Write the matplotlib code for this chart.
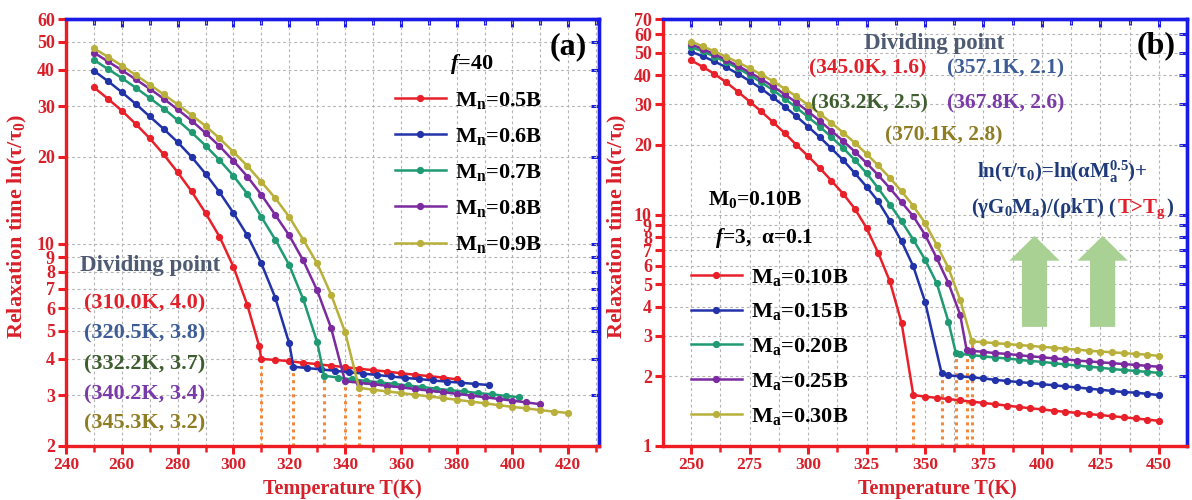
import matplotlib
matplotlib.use('Agg')
import matplotlib.pyplot as plt
from matplotlib.patches import FancyArrow
from matplotlib.ticker import MultipleLocator, NullLocator

plt.rcParams['font.family'] = ['Liberation Serif', 'DejaVu Serif']
plt.rcParams['font.weight'] = 'bold'
plt.rcParams['mathtext.fontset'] = 'custom'
plt.rcParams['mathtext.rm'] = 'Liberation Serif:bold'
plt.rcParams['mathtext.it'] = 'Liberation Serif:italic:bold'
plt.rcParams['mathtext.bf'] = 'Liberation Serif:bold'
plt.rcParams['mathtext.default'] = 'bf'

# ---------------- data: panel (a), f=40 ----------------
a_labels = ['M$_n$=0.5B', 'M$_n$=0.6B', 'M$_n$=0.7B', 'M$_n$=0.8B', 'M$_n$=0.9B']

a_T_05 = list(range(250, 310, 5)) + [309.2, 310.0] + list(range(315, 385, 5))
a_v_05 = [34.8, 31.8, 28.9, 26.0, 23.2, 20.4, 17.7, 15.2, 12.8, 10.6, 8.34, 6.14,
          4.44, 4.00,
          3.97, 3.93, 3.88, 3.84, 3.79, 3.75, 3.70, 3.66, 3.62, 3.57, 3.53, 3.49, 3.45, 3.40]

a_T_06 = list(range(250, 325, 5)) + [321.5] + [326.5 + 5 * i for i in range(14)]
a_v_06 = [39.7, 36.6, 33.5, 30.5, 27.6, 25.0, 22.5, 20.0, 17.5, 15.1, 12.8, 10.7, 8.57, 6.51, 4.53,
          3.76,
          3.72, 3.68, 3.64, 3.60, 3.56, 3.52, 3.48, 3.44, 3.41, 3.37, 3.34, 3.31, 3.28, 3.25]

a_T_07 = list(range(250, 335, 5)) + [332.5] + [337.5 + 5 * i for i in range(14)]
a_v_07 = [43.3, 40.3, 37.5, 34.7, 32.0, 29.4, 26.8, 24.3, 21.9, 19.5, 17.2, 14.9, 12.4, 10.35,
          8.45, 6.44, 4.58,
          3.50,
          3.45, 3.40, 3.36, 3.32, 3.28, 3.24, 3.20, 3.16, 3.12, 3.09, 3.05, 3.02, 2.98, 2.95]

a_T_08 = list(range(250, 340, 5)) + [340.0] + list(range(345, 415, 5))
a_v_08 = [45.9, 42.8, 39.9, 37.1, 34.4, 31.8, 29.2, 26.7, 24.2, 21.8, 19.4, 17.1, 14.8, 12.6,
          10.7, 8.77, 6.91, 5.12,
          3.35,
          3.31, 3.27, 3.23, 3.19, 3.15, 3.11, 3.07, 3.03, 2.99, 2.95, 2.91, 2.87, 2.83, 2.79]

a_T_09 = list(range(250, 345, 5)) + [345.0] + list(range(350, 425, 5))
a_v_09 = [47.5, 44.4, 41.4, 38.4, 35.6, 32.9, 30.4, 27.9, 25.6, 23.2, 20.8, 18.6, 16.4, 14.4,
          12.4, 10.35, 8.57, 6.68, 4.96,
          3.18,
          3.13, 3.09, 3.05, 3.01, 2.97, 2.93, 2.89, 2.85, 2.81, 2.77, 2.73, 2.70, 2.66, 2.63, 2.60]

a_div_T = [310.0, 321.5, 332.5, 340.0, 345.0]
a_div_v = [4.00, 3.76, 3.50, 3.35, 3.18]
a_div_text = ['(310.0K, 4.0)', '(320.5K, 3.8)', '(332.2K, 3.7)', '(340.2K, 3.4)', '(345.3K, 3.2)']

a_yticks = [2, 3, 4, 5, 6, 7, 8, 9, 10, 20, 30, 40, 50, 60]

# ---------------- data: panel (b), f=3 ----------------
b_labels = ['M$_a$=0.10B', 'M$_a$=0.15B', 'M$_a$=0.20B', 'M$_a$=0.25B', 'M$_a$=0.30B']

b_T_10 = list(range(250, 350, 5)) + list(range(350, 455, 5))
b_v_10 = [46.4, 43.5, 40.5, 37.3, 34.0, 30.8, 27.9, 25.1, 22.5, 20.0, 17.9, 15.9, 14.0, 12.3,
          10.6, 8.76, 6.83, 5.14, 3.40, 1.66,
          1.635, 1.615, 1.595, 1.575, 1.555, 1.535, 1.515, 1.495, 1.475, 1.455, 1.44, 1.42,
          1.405, 1.39, 1.375, 1.36, 1.345, 1.33, 1.315, 1.30, 1.285]

b_T_15 = list(range(250, 355, 5)) + [357.1] + list(range(360, 455, 5))
b_v_15 = [50.6, 48.3, 45.9, 43.3, 40.6, 37.8, 35.0, 32.1, 29.3, 26.6, 24.0, 21.6, 19.3, 17.2,
          15.1, 13.2, 11.4, 9.42, 7.66, 5.97, 4.21,
          2.06,
          2.02, 2.00, 1.98, 1.96, 1.93, 1.91, 1.89, 1.87, 1.85, 1.83, 1.81, 1.79, 1.77, 1.75,
          1.73, 1.71, 1.70, 1.68, 1.66]

b_T_20 = list(range(250, 365, 5)) + [363.2] + list(range(365, 455, 5))
b_v_20 = [53.0, 50.7, 48.2, 45.6, 42.9, 40.1, 37.3, 34.5, 31.7, 29.0, 26.4, 24.0, 21.6, 19.4,
          17.2, 15.1, 13.0, 11.05, 9.35, 7.79, 6.39, 5.06, 3.45,
          2.52,
          2.50, 2.47, 2.44, 2.41, 2.39, 2.36, 2.33, 2.31, 2.28, 2.25, 2.23, 2.20, 2.18, 2.15,
          2.13, 2.11, 2.09, 2.07]

b_T_25 = list(range(250, 370, 5)) + [367.8] + list(range(370, 455, 5))
b_v_25 = [54.4, 51.9, 49.3, 46.6, 43.9, 41.2, 38.5, 35.8, 33.1, 30.5, 27.9, 25.4, 23.0, 20.8,
          18.7, 16.7, 14.8, 13.0, 11.3, 9.83, 8.19, 6.49, 5.06, 3.70,
          2.60,
          2.58, 2.55, 2.52, 2.50, 2.47, 2.44, 2.42, 2.39, 2.37, 2.34, 2.32, 2.30, 2.28, 2.26,
          2.24, 2.22, 2.20]

b_T_30 = list(range(250, 370, 5)) + [370.1] + list(range(375, 455, 5))
b_v_30 = [55.9, 53.3, 50.7, 48.1, 45.5, 42.9, 40.3, 37.7, 35.0, 32.4, 29.8, 27.3, 24.9, 22.6,
          20.4, 18.3, 16.3, 14.4, 12.6, 10.9, 9.2, 7.41, 5.88, 4.29,
          2.83,
          2.81, 2.78, 2.76, 2.73, 2.71, 2.68, 2.66, 2.63, 2.61, 2.58, 2.56, 2.54, 2.52, 2.50,
          2.48, 2.45]

b_div_T = [345.0, 357.1, 363.2, 367.8, 370.1]
b_div_v = [1.66, 2.06, 2.52, 2.60, 2.83]
b_div_text = ['(345.0K, 1.6)', '(357.1K, 2.1)', '(363.2K, 2.5)', '(367.8K, 2.6)', '(370.1K, 2.8)']

b_yticks = [1, 2, 3, 4, 5, 6, 7, 8, 9, 10, 20, 30, 40, 50, 60, 70]

# ---------------- styles ----------------
W, H = 1192, 500
line_colors = ['#e8202a', '#2233aa', '#1f9a72', '#7b2aa0', '#b8b03a']
label_colors = ['#e0202a', '#3e5d96', '#3f5e2f', '#7a3aa8', '#8f7d24']
SP_RED = '#f01c24'
SP_BLUE = '#1a1ae6'
TICK_RED = '#d8202a'
DIV_COL = '#4f5b73'
DOT_COL = '#f0883e'
NAVY = '#1f3a78'

fig = plt.figure(figsize=(W / 100, H / 100), dpi=100)
fig.patch.set_facecolor('white')


def make_axes(rect_px):
    x0, y0, x1, y1 = rect_px
    return fig.add_axes([x0 / W, (H - y1) / H, (x1 - x0) / W, (y1 - y0) / H])


def style_axes(ax, xlim, xmaj, xmin, ylim, yticks):
    ax.set_yscale('log')
    ax.set_xlim(*xlim)
    ax.set_ylim(*ylim)
    ax.xaxis.set_major_locator(MultipleLocator(xmaj))
    ax.xaxis.set_minor_locator(MultipleLocator(xmin))
    ax.set_yticks(yticks)
    ax.set_yticklabels([str(t) for t in yticks])
    ax.yaxis.set_minor_locator(NullLocator())
    ax.grid(True, which='both', axis='x', color='#b4b4b4', lw=0.8, ls=(0, (2.5, 2.5)))
    ax.grid(True, which='major', axis='y', color='#b4b4b4', lw=0.8, ls=(0, (2.5, 2.5)))
    ax.set_axisbelow(True)
    for s in ['left', 'bottom']:
        ax.spines[s].set_color(SP_RED)
        ax.spines[s].set_linewidth(2.4)
    for s in ['top', 'right']:
        ax.spines[s].set_color(SP_BLUE)
        ax.spines[s].set_linewidth(2.4)
    ax.tick_params(axis='both', which='major', direction='out', length=6, width=2.2,
                   color=SP_RED, labelcolor=TICK_RED, pad=2)
    ax.tick_params(axis='x', which='major', labelsize=12.5)
    ax.tick_params(axis='y', which='major', labelsize=13)
    ax.tick_params(axis='x', which='minor', direction='out', length=4, width=1.8, color=SP_RED)
    for lab in ax.get_xticklabels() + ax.get_yticklabels():
        lab.set_fontweight('bold')
    # top / right inward ticks (blue)
    sx = ax.secondary_xaxis('top')
    sx.xaxis.set_major_locator(MultipleLocator(xmaj))
    sx.xaxis.set_minor_locator(MultipleLocator(xmin))
    sx.tick_params(axis='x', which='both', direction='in', length=6, width=2.2,
                   color=SP_BLUE, labeltop=False)
    sx.tick_params(axis='x', which='minor', length=4)
    sx.spines['top'].set_color(SP_BLUE)
    sx.spines['top'].set_linewidth(2.4)
    sy = ax.secondary_yaxis('right')
    sy.set_yticks(yticks)
    sy.yaxis.set_minor_locator(NullLocator())
    sy.tick_params(axis='y', which='both', direction='in', length=6, width=2.2,
                   color=SP_BLUE, labelright=False)
    sy.spines['right'].set_color(SP_BLUE)
    sy.spines['right'].set_linewidth(2.4)


def plot_series(ax, Ts, vs, labels):
    for T, v, c, lab in zip(Ts, vs, line_colors, labels):
        ax.plot(T, v, '-o', color=c, lw=1.8, ms=4.2, mfc=c, mec=c, label=lab, zorder=3)


# ---------------- panel (a) ----------------
axA = make_axes((66, 19, 599, 446))
style_axes(axA, (240, 431), 20, 10, (2, 60), a_yticks)
plot_series(axA, [a_T_05, a_T_06, a_T_07, a_T_08, a_T_09],
            [a_v_05, a_v_06, a_v_07, a_v_08, a_v_09], a_labels)
axA.vlines(a_div_T, 2, a_div_v, colors=DOT_COL, linestyles=(0, (1, 1.3)), lw=2.2, zorder=2)
axA.set_xlabel('Temperature T(K)', color=TICK_RED, fontsize=14.5, fontweight='bold')
axA.set_ylabel('Relaxation time ln(τ/τ$_0$)', color=TICK_RED, fontsize=16, fontweight='bold')
axA.xaxis.set_label_coords(0.518, -0.078)
axA.yaxis.set_label_coords(-0.069, 0.515)
legA = axA.legend(loc='upper left', bbox_to_anchor=(0.617, 0.834), frameon=False, fontsize=16,
                  handlelength=2.3, handletextpad=0.4, labelspacing=0.68, borderaxespad=0,
                  borderpad=0)
for t in legA.get_texts():
    t.set_color('black')

fig.text(568 / W, 1 - 47 / H, '(a)', fontsize=23, ha='center', va='center', color='black')
fig.text(472 / W, 1 - 64 / H, '$\\mathit{f}$=40', fontsize=16, ha='center', va='center', color='black')
fig.text(150 / W, 1 - 265 / H, 'Dividing point', fontsize=16.5, ha='center', va='center', color=DIV_COL)
a_text_y = [303, 333, 364, 394, 423]
for s, c, yy in zip(a_div_text, label_colors, a_text_y):
    fig.text(145 / W, 1 - yy / H, s, fontsize=16, ha='center', va='center', color=c)

# ---------------- panel (b) ----------------
axB = make_axes((663, 19, 1187, 446))
style_axes(axB, (238, 462), 25, 12.5, (1, 70), b_yticks)
plot_series(axB, [b_T_10, b_T_15, b_T_20, b_T_25, b_T_30],
            [b_v_10, b_v_15, b_v_20, b_v_25, b_v_30], b_labels)
axB.vlines(b_div_T, 1, b_div_v, colors=DOT_COL, linestyles=(0, (1, 1.3)), lw=2.2, zorder=2)
axB.set_xlabel('Temperature T(K)', color=TICK_RED, fontsize=14.5, fontweight='bold')
axB.set_ylabel('Relaxation time ln(τ/τ$_0$)', color=TICK_RED, fontsize=16, fontweight='bold')
axB.xaxis.set_label_coords(0.523, -0.078)
axB.yaxis.set_label_coords(-0.065, 0.515)
legB = axB.legend(loc='upper left', bbox_to_anchor=(0.053, 0.42), frameon=False, fontsize=16,
                  handlelength=2.3, handletextpad=0.4, labelspacing=0.62, borderaxespad=0,
                  borderpad=0)

# green arrows
for xc in (0.709, 0.839):
    axB.add_patch(FancyArrow(xc, 0.279, 0, 0.213, width=0.048, head_width=0.096,
                             head_length=0.058, length_includes_head=True,
                             transform=axB.transAxes, color='#a8d193', ec='none', zorder=1))

fig.text(1156 / W, 1 - 46 / H, '(b)', fontsize=23, ha='center', va='center', color='black')
fig.text(934 / W, 1 - 44 / H, 'Dividing point', fontsize=16.5, ha='center', va='center', color=DIV_COL)
b_text_xy = [(868, 68), (1006, 68), (869, 103), (1006, 103), (944, 135)]
for s, c, (xx, yy) in zip(b_div_text, label_colors, b_text_xy):
    fig.text(xx / W, 1 - yy / H, s, fontsize=15.5, ha='center', va='center', color=c)

fig.text(755 / W, 1 - 200 / H, 'M$_0$=0.10B', fontsize=15.5, ha='center', va='center', color='black')
fig.text(764 / W, 1 - 238 / H, '$\\mathit{f}$=3,  α=0.1', fontsize=15.5, ha='center', va='center', color='black')

renderer = fig.canvas.get_renderer()


def colored_line(pieces, xc_px, ybase_px, size):
    txts = [fig.text(0, 1 - ybase_px / H, s, color=c, fontsize=size, ha='left', va='baseline')
            for s, c in pieces]
    widths = [t.get_window_extent(renderer).width for t in txts]
    x = xc_px - sum(widths) / 2
    for t, w in zip(txts, widths):
        t.set_x(x / W)
        x += w


colored_line([('ln(τ/τ$_0$)=ln(αM$_a^{0.5}$)+', NAVY)], 1062, 178, 15)
colored_line([('(γG$_0$M$_a$)/(ρkT) (', NAVY), ('T>T$_g$', '#e0202a'), (')', NAVY)], 1072, 213, 15)

fig.savefig('out.png', dpi=100, facecolor='white')
